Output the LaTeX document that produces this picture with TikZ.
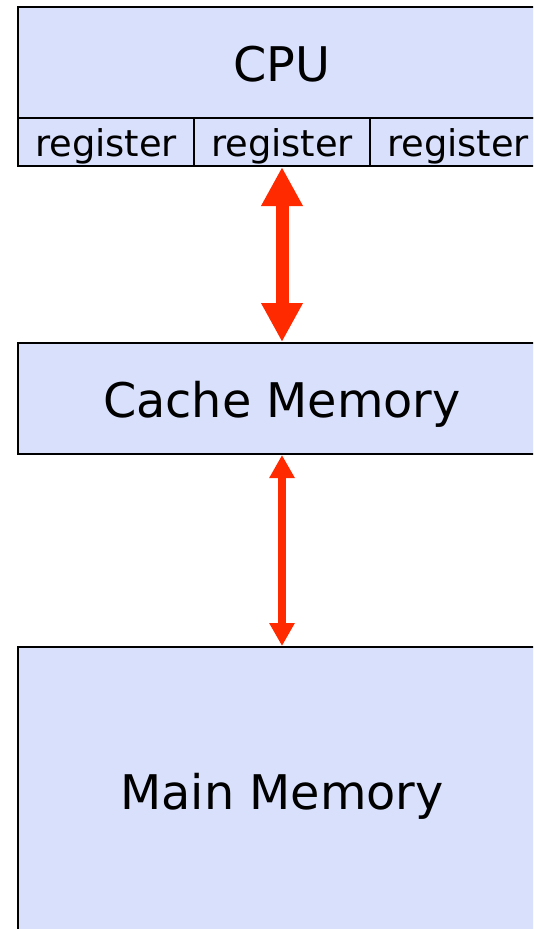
\documentclass[tikz,border=0pt]{standalone}
\usepackage{fontspec}
\setmainfont{DejaVu Sans}
\usetikzlibrary{arrows.meta,positioning}
\definecolor{memfill}{HTML}{D9E0FC}
\definecolor{busred}{HTML}{FF2A00}
\begin{document}
\begin{tikzpicture}[x=0.75pt,y=-0.75pt,
    unit/.style={draw, line width=1.5pt, fill=memfill, inner sep=0pt,
        minimum width=396pt, text height=28pt, text depth=0pt,
        font=\fontsize{35.8}{40}\selectfont},
    regcell/.style={draw, line width=1.5pt, fill=memfill, inner sep=0pt,
        minimum width=132pt, minimum height=36pt, text height=21pt, text depth=0pt,
        font=\fontsize{27.6}{32}\selectfont},
    widebus/.style={busred, line width=9.75pt,
        {Triangle[width=29.25pt,length=29.25pt]}-{Triangle[width=29.25pt,length=29.25pt]}},
    narrowbus/.style={busred, line width=6pt,
        {Triangle[width=18pt,length=17.25pt]}-{Triangle[width=18pt,length=17.25pt]}}]
    \path[use as bounding box, clip] (0,0) rectangle (533,929);

    % CPU with its register row
    \node[unit, minimum height=83.25pt] (cpu) at (282,62.5) {CPU};
    \node[regcell] (reg1) at (106,142) {register};
    \node[regcell] (reg2) at (282,142) {register};
    \node[regcell] (reg3) at (458,142) {register};

    % memories
    \node[unit, minimum height=83.25pt] (cache) at (282,398.5) {Cache Memory};
    \node[unit, minimum height=216pt] (main) at (282,791) {Main Memory};

    \draw[widebus] (reg2.south) -- (cache.north);
    \draw[narrowbus] (cache.south) -- (main.north);
\end{tikzpicture}
\end{document}
